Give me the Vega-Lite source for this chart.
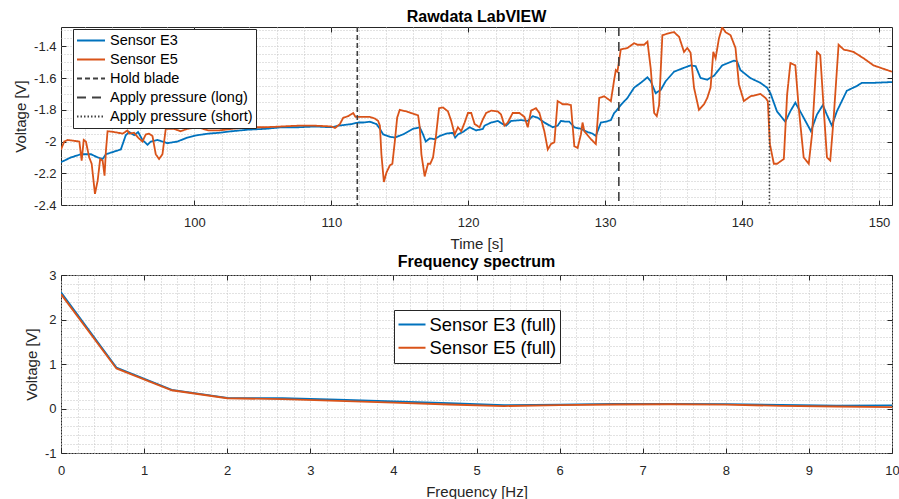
{
  "$schema": "https://vega.github.io/schema/vega-lite/v6.json",
  "background": "white",
  "padding": {"left": 13, "top": 8, "right": 5, "bottom": 5},
  "bounds": "flush",
  "spacing": 70,
  "resolve": {"scale": {"color": "independent", "strokeDash": "independent"}, "legend": {"color": "independent", "strokeDash": "independent"}},
  "config": {
    "font": "Liberation Sans",
    "view": {"stroke": "#262626", "strokeWidth": 1},
    "axis": {
      "labelFontSize": 13, "labelColor": "#262626", "labelFlush": false, "labelOverlap": false,
      "titleFontSize": 15, "titleFontWeight": "normal", "titleColor": "#262626",
      "tickColor": "#262626", "tickWidth": 1, "tickSize": -5,
      "domain": false,
      "gridColor": "#c4c4c4", "gridDash": [1, 2], "gridWidth": 1
    },
    "title": {"fontSize": 16, "fontWeight": "bold", "color": "#000", "baseline": "alphabetic", "offset": -1}
  },
  "datasets": {
    "raw": [
      {"series": "Sensor E3", "t": 90.26, "v": -2.13},
      {"series": "Sensor E3", "t": 90.99, "v": -2.10},
      {"series": "Sensor E3", "t": 91.72, "v": -2.08},
      {"series": "Sensor E3", "t": 92.45, "v": -2.08},
      {"series": "Sensor E3", "t": 92.94, "v": -2.10},
      {"series": "Sensor E3", "t": 93.30, "v": -2.11},
      {"series": "Sensor E3", "t": 93.54, "v": -2.08},
      {"series": "Sensor E3", "t": 93.90, "v": -2.07},
      {"series": "Sensor E3", "t": 94.63, "v": -2.05},
      {"series": "Sensor E3", "t": 94.99, "v": -1.96},
      {"series": "Sensor E3", "t": 95.24, "v": -1.94},
      {"series": "Sensor E3", "t": 95.60, "v": -1.96},
      {"series": "Sensor E3", "t": 95.89, "v": -1.94},
      {"series": "Sensor E3", "t": 96.21, "v": -1.99},
      {"series": "Sensor E3", "t": 96.58, "v": -2.02},
      {"series": "Sensor E3", "t": 96.82, "v": -2.00},
      {"series": "Sensor E3", "t": 97.31, "v": -1.99},
      {"series": "Sensor E3", "t": 98.03, "v": -2.01},
      {"series": "Sensor E3", "t": 98.76, "v": -2.00},
      {"series": "Sensor E3", "t": 99.49, "v": -1.975},
      {"series": "Sensor E3", "t": 100.22, "v": -1.96},
      {"series": "Sensor E3", "t": 101.04, "v": -1.95},
      {"series": "Sensor E3", "t": 101.77, "v": -1.945},
      {"series": "Sensor E3", "t": 102.74, "v": -1.935},
      {"series": "Sensor E3", "t": 103.95, "v": -1.925},
      {"series": "Sensor E3", "t": 105.17, "v": -1.92},
      {"series": "Sensor E3", "t": 106.38, "v": -1.91},
      {"series": "Sensor E3", "t": 107.60, "v": -1.91},
      {"series": "Sensor E3", "t": 108.81, "v": -1.905},
      {"series": "Sensor E3", "t": 110.02, "v": -1.91},
      {"series": "Sensor E3", "t": 110.51, "v": -1.90},
      {"series": "Sensor E3", "t": 111.48, "v": -1.89},
      {"series": "Sensor E3", "t": 111.97, "v": -1.88},
      {"series": "Sensor E3", "t": 112.33, "v": -1.88},
      {"series": "Sensor E3", "t": 112.82, "v": -1.875},
      {"series": "Sensor E3", "t": 113.30, "v": -1.89},
      {"series": "Sensor E3", "t": 113.55, "v": -1.92},
      {"series": "Sensor E3", "t": 113.79, "v": -1.955},
      {"series": "Sensor E3", "t": 114.28, "v": -1.97},
      {"series": "Sensor E3", "t": 114.64, "v": -1.975},
      {"series": "Sensor E3", "t": 115.24, "v": -1.955},
      {"series": "Sensor E3", "t": 115.97, "v": -1.92},
      {"series": "Sensor E3", "t": 116.46, "v": -1.91},
      {"series": "Sensor E3", "t": 116.70, "v": -1.955},
      {"series": "Sensor E3", "t": 116.90, "v": -2.00},
      {"series": "Sensor E3", "t": 117.19, "v": -1.98},
      {"series": "Sensor E3", "t": 117.55, "v": -1.985},
      {"series": "Sensor E3", "t": 117.92, "v": -1.965},
      {"series": "Sensor E3", "t": 118.40, "v": -1.95},
      {"series": "Sensor E3", "t": 118.89, "v": -1.945},
      {"series": "Sensor E3", "t": 119.05, "v": -1.975},
      {"series": "Sensor E3", "t": 119.25, "v": -1.955},
      {"series": "Sensor E3", "t": 119.61, "v": -1.94},
      {"series": "Sensor E3", "t": 120.10, "v": -1.91},
      {"series": "Sensor E3", "t": 120.58, "v": -1.93},
      {"series": "Sensor E3", "t": 121.07, "v": -1.92},
      {"series": "Sensor E3", "t": 121.19, "v": -1.90},
      {"series": "Sensor E3", "t": 121.68, "v": -1.88},
      {"series": "Sensor E3", "t": 122.16, "v": -1.87},
      {"series": "Sensor E3", "t": 122.53, "v": -1.89},
      {"series": "Sensor E3", "t": 122.77, "v": -1.90},
      {"series": "Sensor E3", "t": 123.13, "v": -1.87},
      {"series": "Sensor E3", "t": 123.86, "v": -1.865},
      {"series": "Sensor E3", "t": 124.35, "v": -1.87},
      {"series": "Sensor E3", "t": 124.71, "v": -1.84},
      {"series": "Sensor E3", "t": 125.08, "v": -1.85},
      {"series": "Sensor E3", "t": 125.56, "v": -1.88},
      {"series": "Sensor E3", "t": 126.17, "v": -1.91},
      {"series": "Sensor E3", "t": 126.53, "v": -1.90},
      {"series": "Sensor E3", "t": 126.77, "v": -1.87},
      {"series": "Sensor E3", "t": 127.14, "v": -1.875},
      {"series": "Sensor E3", "t": 127.38, "v": -1.875},
      {"series": "Sensor E3", "t": 127.75, "v": -1.91},
      {"series": "Sensor E3", "t": 128.23, "v": -1.92},
      {"series": "Sensor E3", "t": 128.72, "v": -1.94},
      {"series": "Sensor E3", "t": 129.08, "v": -1.95},
      {"series": "Sensor E3", "t": 129.32, "v": -1.965},
      {"series": "Sensor E3", "t": 129.69, "v": -1.88},
      {"series": "Sensor E3", "t": 130.05, "v": -1.875},
      {"series": "Sensor E3", "t": 130.42, "v": -1.865},
      {"series": "Sensor E3", "t": 130.66, "v": -1.82},
      {"series": "Sensor E3", "t": 130.78, "v": -1.81},
      {"series": "Sensor E3", "t": 131.14, "v": -1.77},
      {"series": "Sensor E3", "t": 131.63, "v": -1.725},
      {"series": "Sensor E3", "t": 132.12, "v": -1.66},
      {"series": "Sensor E3", "t": 132.60, "v": -1.63},
      {"series": "Sensor E3", "t": 133.09, "v": -1.595},
      {"series": "Sensor E3", "t": 133.33, "v": -1.62},
      {"series": "Sensor E3", "t": 133.69, "v": -1.695},
      {"series": "Sensor E3", "t": 134.06, "v": -1.675},
      {"series": "Sensor E3", "t": 134.42, "v": -1.62},
      {"series": "Sensor E3", "t": 135.03, "v": -1.56},
      {"series": "Sensor E3", "t": 135.76, "v": -1.535},
      {"series": "Sensor E3", "t": 136.24, "v": -1.52},
      {"series": "Sensor E3", "t": 136.61, "v": -1.525},
      {"series": "Sensor E3", "t": 136.97, "v": -1.60},
      {"series": "Sensor E3", "t": 137.46, "v": -1.61},
      {"series": "Sensor E3", "t": 137.95, "v": -1.585},
      {"series": "Sensor E3", "t": 138.55, "v": -1.52},
      {"series": "Sensor E3", "t": 139.40, "v": -1.49},
      {"series": "Sensor E3", "t": 139.64, "v": -1.495},
      {"series": "Sensor E3", "t": 139.88, "v": -1.55},
      {"series": "Sensor E3", "t": 140.61, "v": -1.60},
      {"series": "Sensor E3", "t": 141.34, "v": -1.63},
      {"series": "Sensor E3", "t": 141.82, "v": -1.66},
      {"series": "Sensor E3", "t": 142.07, "v": -1.695},
      {"series": "Sensor E3", "t": 142.55, "v": -1.81},
      {"series": "Sensor E3", "t": 143.16, "v": -1.875},
      {"series": "Sensor E3", "t": 143.52, "v": -1.81},
      {"series": "Sensor E3", "t": 143.89, "v": -1.755},
      {"series": "Sensor E3", "t": 144.25, "v": -1.81},
      {"series": "Sensor E3", "t": 145.03, "v": -1.935},
      {"series": "Sensor E3", "t": 145.47, "v": -1.83},
      {"series": "Sensor E3", "t": 145.90, "v": -1.77},
      {"series": "Sensor E3", "t": 146.19, "v": -1.83},
      {"series": "Sensor E3", "t": 146.56, "v": -1.90},
      {"series": "Sensor E3", "t": 146.92, "v": -1.81},
      {"series": "Sensor E3", "t": 147.65, "v": -1.68},
      {"series": "Sensor E3", "t": 148.38, "v": -1.65},
      {"series": "Sensor E3", "t": 148.75, "v": -1.63},
      {"series": "Sensor E3", "t": 149.60, "v": -1.63},
      {"series": "Sensor E3", "t": 150.95, "v": -1.625},
      {"series": "Sensor E5", "t": 90.26, "v": -2.05},
      {"series": "Sensor E5", "t": 90.50, "v": -2.00},
      {"series": "Sensor E5", "t": 90.75, "v": -1.99},
      {"series": "Sensor E5", "t": 91.60, "v": -2.00},
      {"series": "Sensor E5", "t": 91.77, "v": -2.12},
      {"series": "Sensor E5", "t": 91.92, "v": -1.99},
      {"series": "Sensor E5", "t": 92.08, "v": -2.00},
      {"series": "Sensor E5", "t": 92.32, "v": -2.10},
      {"series": "Sensor E5", "t": 92.50, "v": -2.14},
      {"series": "Sensor E5", "t": 92.74, "v": -2.33},
      {"series": "Sensor E5", "t": 92.94, "v": -2.245},
      {"series": "Sensor E5", "t": 93.12, "v": -2.11},
      {"series": "Sensor E5", "t": 93.30, "v": -2.12},
      {"series": "Sensor E5", "t": 93.44, "v": -2.215},
      {"series": "Sensor E5", "t": 93.54, "v": -2.06},
      {"series": "Sensor E5", "t": 93.66, "v": -1.935},
      {"series": "Sensor E5", "t": 94.14, "v": -1.94},
      {"series": "Sensor E5", "t": 94.76, "v": -1.95},
      {"series": "Sensor E5", "t": 95.12, "v": -1.93},
      {"series": "Sensor E5", "t": 95.24, "v": -1.95},
      {"series": "Sensor E5", "t": 95.60, "v": -1.945},
      {"series": "Sensor E5", "t": 95.89, "v": -1.975},
      {"series": "Sensor E5", "t": 96.21, "v": -2.00},
      {"series": "Sensor E5", "t": 96.45, "v": -1.955},
      {"series": "Sensor E5", "t": 96.69, "v": -1.95},
      {"series": "Sensor E5", "t": 96.94, "v": -1.965},
      {"series": "Sensor E5", "t": 97.18, "v": -2.08},
      {"series": "Sensor E5", "t": 97.42, "v": -2.11},
      {"series": "Sensor E5", "t": 97.67, "v": -2.08},
      {"series": "Sensor E5", "t": 97.91, "v": -1.92},
      {"series": "Sensor E5", "t": 98.51, "v": -1.92},
      {"series": "Sensor E5", "t": 99.00, "v": -1.935},
      {"series": "Sensor E5", "t": 99.49, "v": -1.92},
      {"series": "Sensor E5", "t": 100.22, "v": -1.91},
      {"series": "Sensor E5", "t": 101.04, "v": -1.93},
      {"series": "Sensor E5", "t": 101.77, "v": -1.93},
      {"series": "Sensor E5", "t": 102.74, "v": -1.92},
      {"series": "Sensor E5", "t": 103.95, "v": -1.91},
      {"series": "Sensor E5", "t": 105.17, "v": -1.91},
      {"series": "Sensor E5", "t": 106.38, "v": -1.905},
      {"series": "Sensor E5", "t": 107.60, "v": -1.90},
      {"series": "Sensor E5", "t": 108.81, "v": -1.90},
      {"series": "Sensor E5", "t": 110.02, "v": -1.905},
      {"series": "Sensor E5", "t": 110.27, "v": -1.915},
      {"series": "Sensor E5", "t": 110.63, "v": -1.89},
      {"series": "Sensor E5", "t": 110.87, "v": -1.85},
      {"series": "Sensor E5", "t": 111.24, "v": -1.84},
      {"series": "Sensor E5", "t": 111.60, "v": -1.82},
      {"series": "Sensor E5", "t": 111.77, "v": -1.845},
      {"series": "Sensor E5", "t": 112.09, "v": -1.845},
      {"series": "Sensor E5", "t": 112.82, "v": -1.845},
      {"series": "Sensor E5", "t": 113.18, "v": -1.855},
      {"series": "Sensor E5", "t": 113.42, "v": -1.87},
      {"series": "Sensor E5", "t": 113.55, "v": -1.90},
      {"series": "Sensor E5", "t": 113.66, "v": -2.08},
      {"series": "Sensor E5", "t": 113.84, "v": -2.255},
      {"series": "Sensor E5", "t": 114.03, "v": -2.195},
      {"series": "Sensor E5", "t": 114.28, "v": -2.15},
      {"series": "Sensor E5", "t": 114.46, "v": -2.14},
      {"series": "Sensor E5", "t": 114.64, "v": -2.00},
      {"series": "Sensor E5", "t": 114.81, "v": -1.85},
      {"series": "Sensor E5", "t": 115.00, "v": -1.80},
      {"series": "Sensor E5", "t": 115.48, "v": -1.81},
      {"series": "Sensor E5", "t": 116.34, "v": -1.835},
      {"series": "Sensor E5", "t": 116.46, "v": -1.91},
      {"series": "Sensor E5", "t": 116.58, "v": -2.08},
      {"series": "Sensor E5", "t": 116.82, "v": -2.22},
      {"series": "Sensor E5", "t": 117.06, "v": -2.14},
      {"series": "Sensor E5", "t": 117.23, "v": -2.14},
      {"series": "Sensor E5", "t": 117.43, "v": -2.10},
      {"series": "Sensor E5", "t": 117.63, "v": -1.975},
      {"series": "Sensor E5", "t": 117.87, "v": -1.79},
      {"series": "Sensor E5", "t": 118.16, "v": -1.785},
      {"series": "Sensor E5", "t": 118.52, "v": -1.81},
      {"series": "Sensor E5", "t": 118.76, "v": -1.87},
      {"series": "Sensor E5", "t": 119.01, "v": -1.955},
      {"series": "Sensor E5", "t": 119.25, "v": -1.91},
      {"series": "Sensor E5", "t": 119.49, "v": -1.935},
      {"series": "Sensor E5", "t": 119.74, "v": -1.88},
      {"series": "Sensor E5", "t": 119.98, "v": -1.82},
      {"series": "Sensor E5", "t": 120.22, "v": -1.82},
      {"series": "Sensor E5", "t": 120.47, "v": -1.89},
      {"series": "Sensor E5", "t": 120.83, "v": -1.91},
      {"series": "Sensor E5", "t": 121.07, "v": -1.86},
      {"series": "Sensor E5", "t": 121.31, "v": -1.82},
      {"series": "Sensor E5", "t": 121.68, "v": -1.805},
      {"series": "Sensor E5", "t": 122.16, "v": -1.81},
      {"series": "Sensor E5", "t": 122.40, "v": -1.83},
      {"series": "Sensor E5", "t": 122.65, "v": -1.90},
      {"series": "Sensor E5", "t": 122.89, "v": -1.88},
      {"series": "Sensor E5", "t": 123.25, "v": -1.82},
      {"series": "Sensor E5", "t": 123.74, "v": -1.82},
      {"series": "Sensor E5", "t": 124.11, "v": -1.845},
      {"series": "Sensor E5", "t": 124.35, "v": -1.91},
      {"series": "Sensor E5", "t": 124.59, "v": -1.805},
      {"series": "Sensor E5", "t": 124.95, "v": -1.79},
      {"series": "Sensor E5", "t": 125.20, "v": -1.82},
      {"series": "Sensor E5", "t": 125.56, "v": -1.935},
      {"series": "Sensor E5", "t": 125.81, "v": -2.05},
      {"series": "Sensor E5", "t": 126.05, "v": -2.015},
      {"series": "Sensor E5", "t": 126.29, "v": -2.005},
      {"series": "Sensor E5", "t": 126.53, "v": -1.745},
      {"series": "Sensor E5", "t": 126.90, "v": -1.765},
      {"series": "Sensor E5", "t": 127.26, "v": -1.765},
      {"series": "Sensor E5", "t": 127.50, "v": -1.77},
      {"series": "Sensor E5", "t": 127.75, "v": -2.03},
      {"series": "Sensor E5", "t": 127.99, "v": -2.04},
      {"series": "Sensor E5", "t": 128.23, "v": -1.955},
      {"series": "Sensor E5", "t": 128.35, "v": -1.88},
      {"series": "Sensor E5", "t": 128.48, "v": -1.935},
      {"series": "Sensor E5", "t": 128.96, "v": -1.985},
      {"series": "Sensor E5", "t": 129.32, "v": -2.015},
      {"series": "Sensor E5", "t": 129.57, "v": -1.725},
      {"series": "Sensor E5", "t": 129.93, "v": -1.715},
      {"series": "Sensor E5", "t": 130.42, "v": -1.745},
      {"series": "Sensor E5", "t": 130.66, "v": -1.61},
      {"series": "Sensor E5", "t": 130.78, "v": -1.55},
      {"series": "Sensor E5", "t": 130.90, "v": -1.56},
      {"series": "Sensor E5", "t": 131.14, "v": -1.42},
      {"series": "Sensor E5", "t": 131.63, "v": -1.41},
      {"series": "Sensor E5", "t": 132.12, "v": -1.38},
      {"series": "Sensor E5", "t": 132.36, "v": -1.39},
      {"series": "Sensor E5", "t": 132.85, "v": -1.39},
      {"series": "Sensor E5", "t": 133.09, "v": -1.37},
      {"series": "Sensor E5", "t": 133.33, "v": -1.54},
      {"series": "Sensor E5", "t": 133.58, "v": -1.82},
      {"series": "Sensor E5", "t": 133.77, "v": -1.84},
      {"series": "Sensor E5", "t": 133.94, "v": -1.77},
      {"series": "Sensor E5", "t": 134.18, "v": -1.33},
      {"series": "Sensor E5", "t": 134.55, "v": -1.32},
      {"series": "Sensor E5", "t": 135.03, "v": -1.31},
      {"series": "Sensor E5", "t": 135.40, "v": -1.34},
      {"series": "Sensor E5", "t": 135.76, "v": -1.435},
      {"series": "Sensor E5", "t": 136.00, "v": -1.41},
      {"series": "Sensor E5", "t": 136.24, "v": -1.44},
      {"series": "Sensor E5", "t": 136.49, "v": -1.66},
      {"series": "Sensor E5", "t": 136.85, "v": -1.80},
      {"series": "Sensor E5", "t": 137.22, "v": -1.765},
      {"series": "Sensor E5", "t": 137.46, "v": -1.725},
      {"series": "Sensor E5", "t": 137.70, "v": -1.66},
      {"series": "Sensor E5", "t": 137.90, "v": -1.435},
      {"series": "Sensor E5", "t": 138.07, "v": -1.475},
      {"series": "Sensor E5", "t": 138.31, "v": -1.35},
      {"series": "Sensor E5", "t": 138.55, "v": -1.28},
      {"series": "Sensor E5", "t": 138.79, "v": -1.31},
      {"series": "Sensor E5", "t": 139.16, "v": -1.33},
      {"series": "Sensor E5", "t": 139.52, "v": -1.41},
      {"series": "Sensor E5", "t": 139.77, "v": -1.64},
      {"series": "Sensor E5", "t": 140.13, "v": -1.745},
      {"series": "Sensor E5", "t": 140.61, "v": -1.715},
      {"series": "Sensor E5", "t": 141.34, "v": -1.70},
      {"series": "Sensor E5", "t": 141.71, "v": -1.725},
      {"series": "Sensor E5", "t": 141.88, "v": -1.745},
      {"series": "Sensor E5", "t": 142.03, "v": -2.015},
      {"series": "Sensor E5", "t": 142.32, "v": -2.14},
      {"series": "Sensor E5", "t": 142.56, "v": -2.14},
      {"series": "Sensor E5", "t": 143.05, "v": -2.11},
      {"series": "Sensor E5", "t": 143.29, "v": -1.705},
      {"series": "Sensor E5", "t": 143.53, "v": -1.505},
      {"series": "Sensor E5", "t": 143.89, "v": -1.52},
      {"series": "Sensor E5", "t": 144.14, "v": -1.79},
      {"series": "Sensor E5", "t": 144.50, "v": -2.10},
      {"series": "Sensor E5", "t": 144.87, "v": -2.14},
      {"series": "Sensor E5", "t": 145.11, "v": -1.955},
      {"series": "Sensor E5", "t": 145.47, "v": -1.435},
      {"series": "Sensor E5", "t": 145.71, "v": -1.455},
      {"series": "Sensor E5", "t": 145.96, "v": -1.79},
      {"series": "Sensor E5", "t": 146.20, "v": -2.10},
      {"series": "Sensor E5", "t": 146.44, "v": -2.12},
      {"series": "Sensor E5", "t": 146.69, "v": -1.85},
      {"series": "Sensor E5", "t": 147.05, "v": -1.39},
      {"series": "Sensor E5", "t": 147.42, "v": -1.42},
      {"series": "Sensor E5", "t": 148.14, "v": -1.435},
      {"series": "Sensor E5", "t": 148.87, "v": -1.475},
      {"series": "Sensor E5", "t": 149.60, "v": -1.52},
      {"series": "Sensor E5", "t": 150.95, "v": -1.56}
    ],
    "events": [
      {"series": "Hold blade", "t": 111.9},
      {"series": "Apply pressure (long)", "t": 131.0},
      {"series": "Apply pressure (short)", "t": 142.0}
    ],
    "spectrum": [
      {"series": "Sensor E3 (full)", "f": 0, "v": 2.61},
      {"series": "Sensor E3 (full)", "f": 0.667, "v": 0.92},
      {"series": "Sensor E3 (full)", "f": 1.333, "v": 0.42},
      {"series": "Sensor E3 (full)", "f": 2, "v": 0.24},
      {"series": "Sensor E3 (full)", "f": 2.667, "v": 0.23},
      {"series": "Sensor E3 (full)", "f": 3.333, "v": 0.2},
      {"series": "Sensor E3 (full)", "f": 4, "v": 0.16},
      {"series": "Sensor E3 (full)", "f": 4.667, "v": 0.12},
      {"series": "Sensor E3 (full)", "f": 5.333, "v": 0.075},
      {"series": "Sensor E3 (full)", "f": 6, "v": 0.085},
      {"series": "Sensor E3 (full)", "f": 6.667, "v": 0.105},
      {"series": "Sensor E3 (full)", "f": 7.333, "v": 0.105},
      {"series": "Sensor E3 (full)", "f": 8, "v": 0.1},
      {"series": "Sensor E3 (full)", "f": 8.667, "v": 0.08},
      {"series": "Sensor E3 (full)", "f": 9.333, "v": 0.065},
      {"series": "Sensor E3 (full)", "f": 10, "v": 0.07},
      {"series": "Sensor E5 (full)", "f": 0, "v": 2.57},
      {"series": "Sensor E5 (full)", "f": 0.667, "v": 0.9},
      {"series": "Sensor E5 (full)", "f": 1.333, "v": 0.41},
      {"series": "Sensor E5 (full)", "f": 2, "v": 0.23},
      {"series": "Sensor E5 (full)", "f": 2.667, "v": 0.21},
      {"series": "Sensor E5 (full)", "f": 3.333, "v": 0.17},
      {"series": "Sensor E5 (full)", "f": 4, "v": 0.13},
      {"series": "Sensor E5 (full)", "f": 4.667, "v": 0.09},
      {"series": "Sensor E5 (full)", "f": 5.333, "v": 0.055},
      {"series": "Sensor E5 (full)", "f": 6, "v": 0.075},
      {"series": "Sensor E5 (full)", "f": 6.667, "v": 0.09},
      {"series": "Sensor E5 (full)", "f": 7.333, "v": 0.095},
      {"series": "Sensor E5 (full)", "f": 8, "v": 0.085},
      {"series": "Sensor E5 (full)", "f": 8.667, "v": 0.06},
      {"series": "Sensor E5 (full)", "f": 9.333, "v": 0.045},
      {"series": "Sensor E5 (full)", "f": 10, "v": 0.03}
    ]
  },
  "vconcat": [
    {
      "title": {"text": "Rawdata LabVIEW"},
      "width": 831,
      "height": 178,
      "resolve": {"axis": {"x": "independent", "y": "independent"}},
      "layer": [
        {
          "data": {"name": "raw"},
          "transform": [{"filter": "datum.series === 'Sensor E3'"}],
          "mark": {"type": "line", "strokeWidth": 1.8, "clip": true},
          "encoding": {
            "x": {"field": "t", "type": "quantitative",
              "scale": {"domain": [90.26, 150.95], "nice": false, "zero": false},
              "axis": {"orient": "bottom", "title": "Time [s]",
                "values": [92,94,96,98,100,102,104,106,108,110,112,114,116,118,120,122,124,126,128,130,132,134,136,138,140,142,144,146,148,150],
                "labelExpr": "datum.value % 10 === 0 ? '' + datum.value : ''",
                "tickOpacity": {"condition": {"test": "datum.value % 10 === 0", "value": 1}, "value": 0},
                "grid": true, "labelPadding": 16, "titlePadding": 7}},
            "y": {"field": "v", "type": "quantitative",
              "scale": {"domain": [-2.4, -1.278], "nice": false, "zero": false},
              "axis": {"orient": "left", "title": "Voltage [V]",
                "values": [-2.4,-2.35,-2.3,-2.25,-2.2,-2.15,-2.1,-2.05,-2,-1.95,-1.9,-1.85,-1.8,-1.75,-1.7,-1.65,-1.6,-1.55,-1.5,-1.45,-1.4,-1.35,-1.3],
                "labelExpr": "abs(datum.value*5 - round(datum.value*5)) < 0.000001 ? '' + datum.value : ''",
                "tickOpacity": {"condition": {"test": "abs(datum.value*5 - round(datum.value*5)) < 0.000001", "value": 1}, "value": 0},
                "grid": true, "labelPadding": 10, "titlePadding": 5}},
            "color": {"field": "series", "type": "nominal",
              "scale": {"domain": ["Sensor E3", "Sensor E5", "Hold blade", "Apply pressure (long)", "Apply pressure (short)"],
                        "range": ["#0072BD", "#D95319", "#404040", "#404040", "#404040"]},
              "legend": {"orient": "none", "legendX": 12, "legendY": 2, "title": null,
                "symbolType": "stroke", "symbolSize": 784, "symbolStrokeWidth": 2,
                "clipHeight": 17, "rowPadding": 2, "padding": 3, "labelOffset": 4,
                "labelFontSize": 14.5, "labelColor": "#000", "labelLimit": 0,
                "strokeColor": "#262626", "fillColor": "white"}},
            "strokeDash": {"field": "series", "type": "nominal",
              "scale": {"domain": ["Sensor E3", "Sensor E5", "Hold blade", "Apply pressure (long)", "Apply pressure (short)"],
                        "range": [[1, 0], [1, 0], [5, 3], [9, 6], [1.5, 2]]},
              "legend": {"orient": "none", "legendX": 12, "legendY": 2, "title": null,
                "symbolType": "stroke", "symbolSize": 784, "symbolStrokeWidth": 2,
                "clipHeight": 17, "rowPadding": 2, "padding": 3, "labelOffset": 4,
                "labelFontSize": 14.5, "labelColor": "#000", "labelLimit": 0,
                "strokeColor": "#262626", "fillColor": "white"}}
          }
        },
        {
          "data": {"name": "raw"},
          "transform": [{"filter": "datum.series === 'Sensor E5'"}],
          "mark": {"type": "line", "strokeWidth": 1.8, "clip": true},
          "encoding": {
            "x": {"field": "t", "type": "quantitative",
              "axis": {"orient": "top", "title": null, "values": [100,110,120,130,140,150], "labels": false, "grid": false, "minExtent": 0, "maxExtent": 0}},
            "y": {"field": "v", "type": "quantitative",
              "axis": {"orient": "right", "title": null, "values": [-2.4,-2.2,-2,-1.8,-1.6,-1.4], "labels": false, "grid": false, "minExtent": 0, "maxExtent": 0}},
            "color": {"field": "series", "type": "nominal"},
            "strokeDash": {"field": "series", "type": "nominal"}
          }
        },
        {
          "data": {"name": "events"},
          "mark": {"type": "rule", "strokeWidth": 1.6},
          "encoding": {
            "x": {"field": "t", "type": "quantitative", "axis": null},
            "color": {"field": "series", "type": "nominal"},
            "strokeDash": {"field": "series", "type": "nominal"}
          }
        }
      ]
    },
    {
      "title": {"text": "Frequency spectrum"},
      "width": 831,
      "height": 178,
      "resolve": {"axis": {"x": "independent", "y": "independent"}},
      "layer": [
        {
          "data": {"name": "spectrum"},
          "transform": [{"filter": "datum.series === 'Sensor E3 (full)'"}],
          "mark": {"type": "line", "strokeWidth": 1.8, "clip": true},
          "encoding": {
            "x": {"field": "f", "type": "quantitative",
              "scale": {"domain": [0, 10], "nice": false},
              "axis": {"orient": "bottom", "title": "Frequency [Hz]",
                "values": [0,0.2,0.4,0.6,0.8,1,1.2,1.4,1.6,1.8,2,2.2,2.4,2.6,2.8,3,3.2,3.4,3.6,3.8,4,4.2,4.4,4.6,4.8,5,5.2,5.4,5.6,5.8,6,6.2,6.4,6.6,6.8,7,7.2,7.4,7.6,7.8,8,8.2,8.4,8.6,8.8,9,9.2,9.4,9.6,9.8,10],
                "labelExpr": "abs(datum.value - round(datum.value)) < 0.000001 ? '' + round(datum.value) : ''",
                "tickOpacity": {"condition": {"test": "abs(datum.value - round(datum.value)) < 0.000001", "value": 1}, "value": 0},
                "grid": true, "labelPadding": 16, "titlePadding": 7}},
            "y": {"field": "v", "type": "quantitative",
              "scale": {"domain": [-1, 3], "nice": false, "zero": false},
              "axis": {"orient": "left", "title": "Voltage [V]",
                "values": [-1,-0.8,-0.6,-0.4,-0.2,0,0.2,0.4,0.6,0.8,1,1.2,1.4,1.6,1.8,2,2.2,2.4,2.6,2.8,3],
                "labelExpr": "abs(datum.value - round(datum.value)) < 0.000001 ? '' + round(datum.value) : ''",
                "tickOpacity": {"condition": {"test": "abs(datum.value - round(datum.value)) < 0.000001", "value": 1}, "value": 0},
                "grid": true, "labelPadding": 10, "titlePadding": 5}},
            "color": {"field": "series", "type": "nominal",
              "scale": {"domain": ["Sensor E3 (full)", "Sensor E5 (full)"], "range": ["#0072BD", "#D95319"]},
              "legend": {"orient": "none", "legendX": 333, "legendY": 35, "title": null,
                "symbolType": "stroke", "symbolSize": 729, "symbolStrokeWidth": 2,
                "clipHeight": 22, "rowPadding": 1.3, "padding": 3.5, "labelOffset": 3,
                "labelFontSize": 18.4, "labelColor": "#000", "labelLimit": 0,
                "strokeColor": "#262626", "fillColor": "white"}}
          }
        },
        {
          "data": {"name": "spectrum"},
          "transform": [{"filter": "datum.series === 'Sensor E5 (full)'"}],
          "mark": {"type": "line", "strokeWidth": 1.8, "clip": true},
          "encoding": {
            "x": {"field": "f", "type": "quantitative",
              "axis": {"orient": "top", "title": null, "values": [0,1,2,3,4,5,6,7,8,9,10], "labels": false, "grid": false, "minExtent": 0, "maxExtent": 0}},
            "y": {"field": "v", "type": "quantitative",
              "axis": {"orient": "right", "title": null, "values": [-1,0,1,2,3], "labels": false, "grid": false, "minExtent": 0, "maxExtent": 0}},
            "color": {"field": "series", "type": "nominal"}
          }
        }
      ]
    }
  ]
}
